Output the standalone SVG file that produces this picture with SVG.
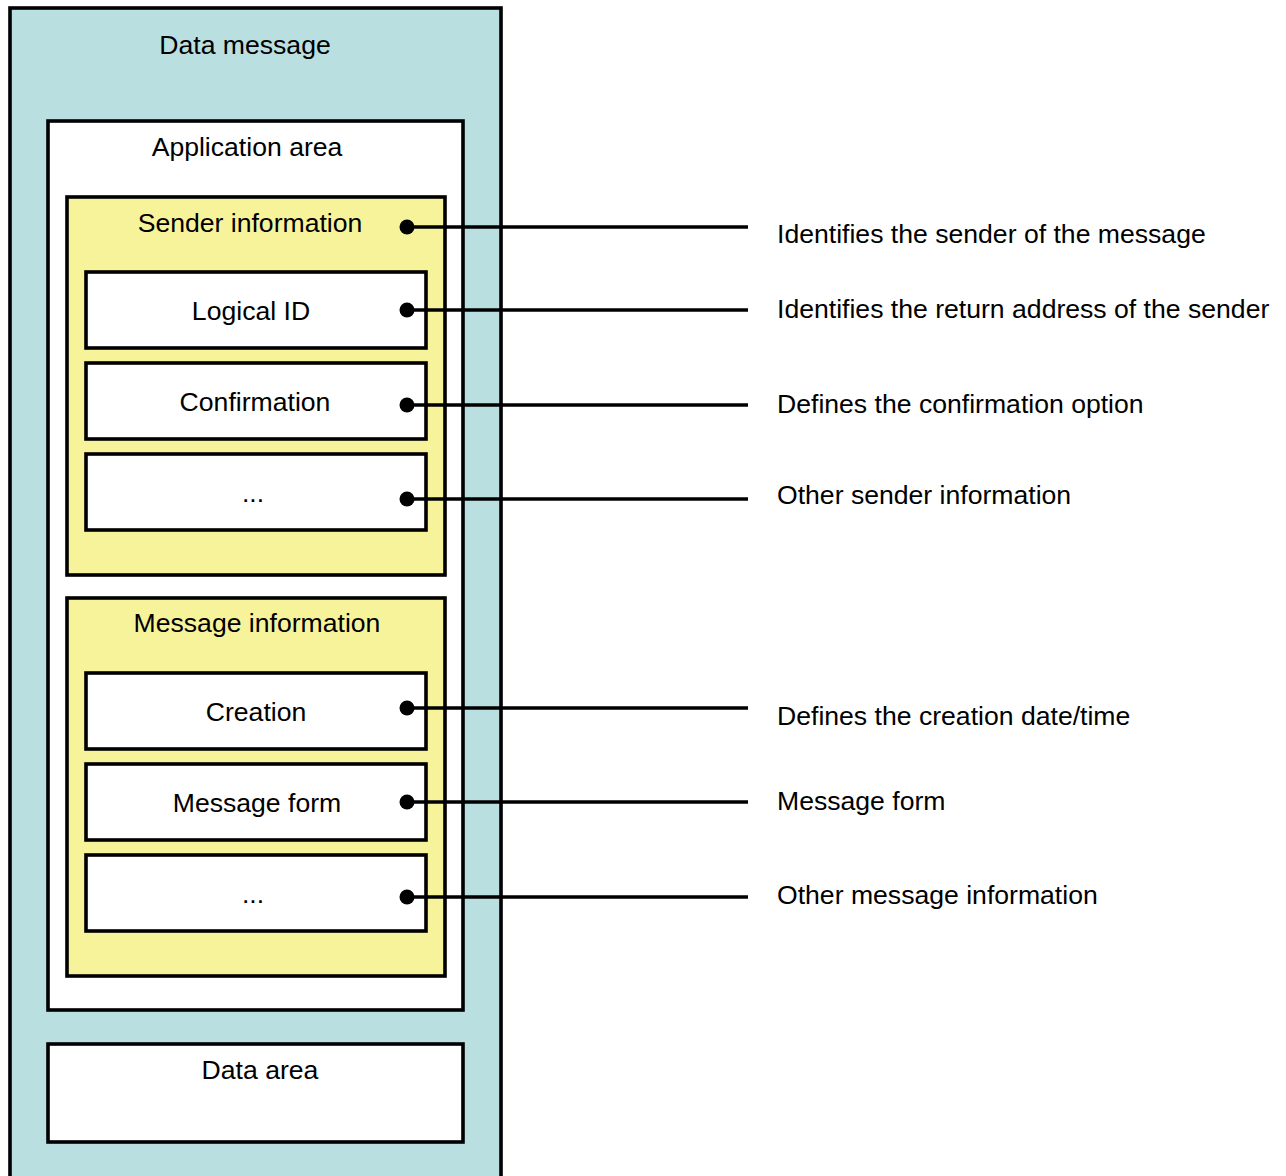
<svg xmlns="http://www.w3.org/2000/svg" width="1286" height="1176" viewBox="0 0 1286 1176">
  <style>
    .box { stroke: #000; stroke-width: 3.6; }
    .outer { fill: #b9dfe1; }
    .plain { fill: #ffffff; }
    .group { fill: #f7f39b; }
    .lbl { font-family: "Liberation Sans", Arial, sans-serif; font-size: 26.6px; fill: #000; }
    .mid { text-anchor: middle; }
    .lead { stroke: #000; stroke-width: 3.3; fill: none; }
    .dot { fill: #000; }
  </style>

  <!-- Containers -->
  <g id="data-message">
    <rect class="box outer" x="10" y="8" width="491" height="1190"/>
    <text class="lbl mid" x="245" y="54">Data message</text>
  </g>

  <g id="application-area">
    <rect class="box plain" x="48" y="121" width="415" height="889"/>
    <text class="lbl mid" x="247" y="156">Application area</text>
  </g>

  <g id="sender-information">
    <rect class="box group" x="67" y="197" width="378" height="378"/>
    <text class="lbl mid" x="250" y="232">Sender information</text>
  </g>

  <g id="logical-id">
    <rect class="box plain" x="86" y="272" width="340" height="76"/>
    <text class="lbl mid" x="251" y="320">Logical ID</text>
  </g>

  <g id="confirmation">
    <rect class="box plain" x="86" y="363" width="340" height="76"/>
    <text class="lbl mid" x="255" y="411">Confirmation</text>
  </g>

  <g id="sender-other">
    <rect class="box plain" x="86" y="454" width="340" height="76"/>
    <text class="lbl mid" x="253" y="502">...</text>
  </g>

  <g id="message-information">
    <rect class="box group" x="67" y="598" width="378" height="378"/>
    <text class="lbl mid" x="257" y="632">Message information</text>
  </g>

  <g id="creation">
    <rect class="box plain" x="86" y="673" width="340" height="76"/>
    <text class="lbl mid" x="256" y="721">Creation</text>
  </g>

  <g id="message-form">
    <rect class="box plain" x="86" y="764" width="340" height="76"/>
    <text class="lbl mid" x="257" y="812">Message form</text>
  </g>

  <g id="message-other">
    <rect class="box plain" x="86" y="855" width="340" height="76"/>
    <text class="lbl mid" x="253" y="903">...</text>
  </g>

  <g id="data-area">
    <rect class="box plain" x="48" y="1044" width="415" height="98"/>
    <text class="lbl mid" x="260" y="1079">Data area</text>
  </g>

  <!-- Leader lines with dot ends -->
  <g id="connectors">
    <line class="lead" x1="407" y1="227" x2="748" y2="227"/>
    <circle class="dot" cx="407" cy="227" r="7.5"/>
    <line class="lead" x1="407" y1="310" x2="748" y2="310"/>
    <circle class="dot" cx="407" cy="310" r="7.5"/>
    <line class="lead" x1="407" y1="405" x2="748" y2="405"/>
    <circle class="dot" cx="407" cy="405" r="7.5"/>
    <line class="lead" x1="407" y1="499" x2="748" y2="499"/>
    <circle class="dot" cx="407" cy="499" r="7.5"/>
    <line class="lead" x1="407" y1="708" x2="748" y2="708"/>
    <circle class="dot" cx="407" cy="708" r="7.5"/>
    <line class="lead" x1="407" y1="802" x2="748" y2="802"/>
    <circle class="dot" cx="407" cy="802" r="7.5"/>
    <line class="lead" x1="407" y1="897" x2="748" y2="897"/>
    <circle class="dot" cx="407" cy="897" r="7.5"/>
  </g>

  <!-- Descriptions -->
  <g id="descriptions">
    <text class="lbl" x="777" y="243">Identifies the sender of the message</text>
    <text class="lbl" x="777" y="318">Identifies the return address of the sender</text>
    <text class="lbl" x="777" y="413">Defines the confirmation option</text>
    <text class="lbl" x="777" y="504">Other sender information</text>
    <text class="lbl" x="777" y="725">Defines the creation date/time</text>
    <text class="lbl" x="777" y="810">Message form</text>
    <text class="lbl" x="777" y="904">Other message information</text>
  </g>
</svg>
